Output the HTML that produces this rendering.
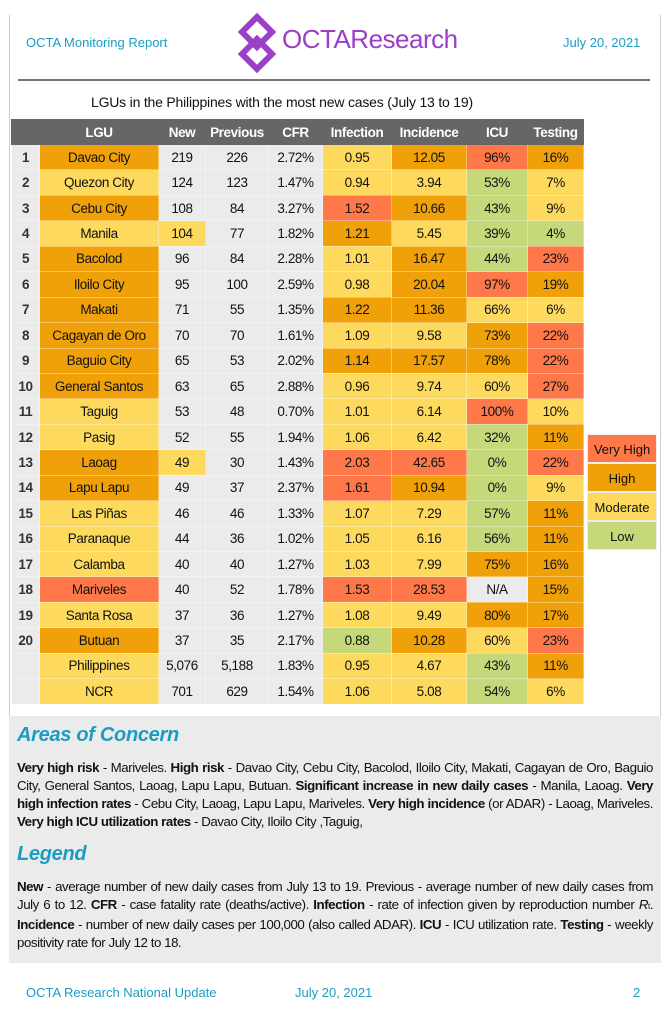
<!DOCTYPE html>
<html><head><meta charset="utf-8"><style>
body{margin:0;width:670px;height:1024px;background:#fff;font-family:"Liberation Sans",sans-serif;position:relative;overflow:hidden;color:#111}
.abs{position:absolute}
.teal{color:#1b9cc2}
table{position:absolute;left:11px;top:119px;border-collapse:collapse;table-layout:fixed;font-size:13.5px;letter-spacing:-0.4px}
td,th{height:24.45px;padding:0;text-align:center;border:1px solid rgba(255,255,255,0.35)}
th{background:#666;color:#fff;font-weight:bold;height:24px;border-color:#666}
td{background:#ebebeb}
td.n{font-weight:bold;color:#333}
.O{background:#F0A10A}.Y{background:#FDDA5E}.R{background:#FF784A}.G{background:#C5D87A}.N{background:#ebebeb}
.leg div{width:70px;text-align:center;font-size:13px;border:1px solid #eee;box-sizing:border-box}
.panel{left:9px;top:716px;width:652px;height:247px;background:#ebebeb}
.ptxt{font-size:13.3px;line-height:18px;letter-spacing:-0.45px;text-align:justify;color:#111}
h2{margin:0;font-size:20px;font-style:italic;font-weight:bold;color:#1b9cc2;letter-spacing:-0.3px}
</style></head><body>
<div class="abs" style="left:9px;top:15px;width:1px;height:948px;background:#ccc"></div>
<div class="abs" style="left:660px;top:15px;width:1px;height:948px;background:#ccc"></div>
<div class="abs teal" style="left:26px;top:35px;font-size:13px">OCTA Monitoring Report</div>
<div class="abs teal" style="left:563px;top:35px;font-size:13px">July 20, 2021</div>
<svg class="abs" style="left:234px;top:12px" width="46" height="62" viewBox="0 0 46 62">
<g fill="none" stroke="#9B3FC8" stroke-width="6">
<polygon points="23,5 38,20 23,35 8,20"/>
<polygon points="23,27 38,42 23,57 8,42"/>
</g></svg>
<div class="abs" style="left:282px;top:24px;font-size:26px;color:#9B3FC8;letter-spacing:-0.5px">OCTAResearch</div>
<div class="abs" style="left:18px;top:79px;width:632px;height:2px;background:#777"></div>
<div class="abs" style="left:91px;top:94px;font-size:14px;letter-spacing:-0.2px">LGUs in the Philippines with the most new cases (July 13 to 19)</div>
<table>
<colgroup><col style="width:28px"><col style="width:119px"><col style="width:47px"><col style="width:63px"><col style="width:54px"><col style="width:69px"><col style="width:75px"><col style="width:61px"><col style="width:56px"></colgroup>
<tr><th></th><th>LGU</th><th>New</th><th>Previous</th><th>CFR</th><th>Infection</th><th>Incidence</th><th>ICU</th><th>Testing</th></tr>
<tr><td class="n">1</td><td class="O">Davao City</td><td>219</td><td>226</td><td>2.72%</td><td class="Y">0.95</td><td class="O">12.05</td><td class="R">96%</td><td class="O">16%</td></tr>
<tr><td class="n">2</td><td class="Y">Quezon City</td><td>124</td><td>123</td><td>1.47%</td><td class="Y">0.94</td><td class="Y">3.94</td><td class="G">53%</td><td class="Y">7%</td></tr>
<tr><td class="n">3</td><td class="O">Cebu City</td><td>108</td><td>84</td><td>3.27%</td><td class="R">1.52</td><td class="O">10.66</td><td class="G">43%</td><td class="Y">9%</td></tr>
<tr><td class="n">4</td><td class="Y">Manila</td><td class="Y">104</td><td>77</td><td>1.82%</td><td class="O">1.21</td><td class="Y">5.45</td><td class="G">39%</td><td class="G">4%</td></tr>
<tr><td class="n">5</td><td class="O">Bacolod</td><td>96</td><td>84</td><td>2.28%</td><td class="Y">1.01</td><td class="O">16.47</td><td class="G">44%</td><td class="R">23%</td></tr>
<tr><td class="n">6</td><td class="O">Iloilo City</td><td>95</td><td>100</td><td>2.59%</td><td class="Y">0.98</td><td class="O">20.04</td><td class="R">97%</td><td class="O">19%</td></tr>
<tr><td class="n">7</td><td class="O">Makati</td><td>71</td><td>55</td><td>1.35%</td><td class="O">1.22</td><td class="O">11.36</td><td class="Y">66%</td><td class="Y">6%</td></tr>
<tr><td class="n">8</td><td class="O">Cagayan de Oro</td><td>70</td><td>70</td><td>1.61%</td><td class="Y">1.09</td><td class="Y">9.58</td><td class="O">73%</td><td class="R">22%</td></tr>
<tr><td class="n">9</td><td class="O">Baguio City</td><td>65</td><td>53</td><td>2.02%</td><td class="O">1.14</td><td class="O">17.57</td><td class="O">78%</td><td class="R">22%</td></tr>
<tr><td class="n">10</td><td class="O">General Santos</td><td>63</td><td>65</td><td>2.88%</td><td class="Y">0.96</td><td class="Y">9.74</td><td class="Y">60%</td><td class="R">27%</td></tr>
<tr><td class="n">11</td><td class="Y">Taguig</td><td>53</td><td>48</td><td>0.70%</td><td class="Y">1.01</td><td class="Y">6.14</td><td class="R">100%</td><td class="Y">10%</td></tr>
<tr><td class="n">12</td><td class="Y">Pasig</td><td>52</td><td>55</td><td>1.94%</td><td class="Y">1.06</td><td class="Y">6.42</td><td class="G">32%</td><td class="O">11%</td></tr>
<tr><td class="n">13</td><td class="O">Laoag</td><td class="Y">49</td><td>30</td><td>1.43%</td><td class="R">2.03</td><td class="R">42.65</td><td class="G">0%</td><td class="R">22%</td></tr>
<tr><td class="n">14</td><td class="O">Lapu Lapu</td><td>49</td><td>37</td><td>2.37%</td><td class="R">1.61</td><td class="O">10.94</td><td class="G">0%</td><td class="Y">9%</td></tr>
<tr><td class="n">15</td><td class="Y">Las Piñas</td><td>46</td><td>46</td><td>1.33%</td><td class="Y">1.07</td><td class="Y">7.29</td><td class="G">57%</td><td class="O">11%</td></tr>
<tr><td class="n">16</td><td class="Y">Paranaque</td><td>44</td><td>36</td><td>1.02%</td><td class="Y">1.05</td><td class="Y">6.16</td><td class="G">56%</td><td class="O">11%</td></tr>
<tr><td class="n">17</td><td class="Y">Calamba</td><td>40</td><td>40</td><td>1.27%</td><td class="Y">1.03</td><td class="Y">7.99</td><td class="O">75%</td><td class="O">16%</td></tr>
<tr><td class="n">18</td><td class="R">Mariveles</td><td>40</td><td>52</td><td>1.78%</td><td class="R">1.53</td><td class="R">28.53</td><td class="N">N/A</td><td class="O">15%</td></tr>
<tr><td class="n">19</td><td class="Y">Santa Rosa</td><td>37</td><td>36</td><td>1.27%</td><td class="Y">1.08</td><td class="Y">9.49</td><td class="O">80%</td><td class="O">17%</td></tr>
<tr><td class="n">20</td><td class="O">Butuan</td><td>37</td><td>35</td><td>2.17%</td><td class="G">0.88</td><td class="O">10.28</td><td class="Y">60%</td><td class="R">23%</td></tr>
<tr><td class="n"></td><td class="Y">Philippines</td><td>5,076</td><td>5,188</td><td>1.83%</td><td class="Y">0.95</td><td class="Y">4.67</td><td class="G">43%</td><td class="O">11%</td></tr>
<tr><td class="n"></td><td class="Y">NCR</td><td>701</td><td>629</td><td>1.54%</td><td class="Y">1.06</td><td class="Y">5.08</td><td class="G">54%</td><td class="Y">6%</td></tr>
</table>
<div class="abs leg" style="left:587px;top:434px">
<div class="R" style="height:29px;line-height:29px">Very High</div>
<div class="O" style="height:29px;line-height:29px">High</div>
<div class="Y" style="height:29px;line-height:29px">Moderate</div>
<div class="G" style="height:29px;line-height:29px">Low</div>
</div>
<div class="abs panel"></div>
<div class="abs" style="left:17px;top:724px"><h2>Areas of Concern</h2></div>
<div class="abs ptxt" style="left:17px;top:759px;width:636px"><b>Very high risk</b> - Mariveles. <b>High risk</b> - Davao City, Cebu City, Bacolod, Iloilo City, Makati, Cagayan de Oro, Baguio City, General Santos, Laoag, Lapu Lapu, Butuan. <b>Significant increase in new daily cases</b> - Manila, Laoag. <b>Very high infection rates</b> - Cebu City, Laoag, Lapu Lapu, Mariveles. <b>Very high incidence</b> (or ADAR) - Laoag, Mariveles. <b>Very high ICU utilization rates</b> - Davao City, Iloilo City ,Taguig,</div>
<div class="abs" style="left:17px;top:843px"><h2>Legend</h2></div>
<div class="abs ptxt" style="left:17px;top:878px;width:636px"><b>New</b> - average number of new daily cases from July 13 to 19. Previous - average number of new daily cases from July 6 to 12. <b>CFR</b> - case fatality rate (deaths/active). <b>Infection</b> - rate of infection given by reproduction number <i>R</i><span style="font-size:8px;vertical-align:baseline">t</span>. <b>Incidence</b> - number of new daily cases per 100,000 (also called ADAR). <b>ICU</b> - ICU utilization rate. <b>Testing</b> - weekly positivity rate for July 12 to 18.</div>
<div class="abs teal" style="left:26px;top:985px;font-size:13px">OCTA Research National Update</div>
<div class="abs teal" style="left:295px;top:985px;font-size:13px">July 20, 2021</div>
<div class="abs teal" style="left:633px;top:985px;font-size:13px">2</div>
</body></html>
